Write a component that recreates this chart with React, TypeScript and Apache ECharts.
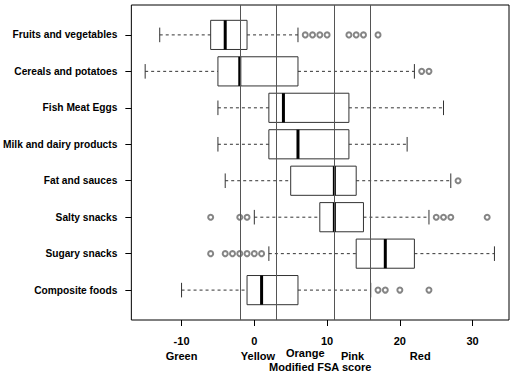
import React, { useEffect, useRef } from "react";
import * as echarts from "echarts";

const categories = [
  "Fruits and vegetables",
  "Cereals and potatoes",
  "Fish Meat Eggs",
  "Milk and dairy products",
  "Fat and sauces",
  "Salty snacks",
  "Sugary snacks",
  "Composite foods",
];
const whiskerLow = [-13, -15, -5, -5, -4, 0, 2, -10];
const q1 = [-6, -5, 2, 2, 5, 9, 14, -1];
const median = [-4, -2, 4, 6, 11, 11, 18, 1];
const q3 = [-1, 6, 13, 13, 14, 15, 22, 6];
const whiskerHigh = [6, 22, 26, 21, 27, 24, 33, 16];
const outliers = [
  [7, 8, 9, 10, 13, 14, 15, 17],
  [23, 24],
  [],
  [],
  [28],
  [-6, -2, -1, 25, 26, 27, 32],
  [-6, -4, -3, -2, -1, 0, 1],
  [17, 18, 20, 24],
];
const tickValues = [-10, 0, 10, 20, 30];
const zoneBounds = [-2, 3, 11, 16];
const zoneNames = ["Green", "Yellow", "Orange", "Pink", "Red"];
const zoneLabelPos = [-10, 0.5, 7, 13.5, 22.8];
const zoneLabelRaise = [0, 0, 2.5, 0, 0];
const xTitle = "Modified FSA score";

const FONT = "'Liberation Sans', Arial, Helvetica, sans-serif";

export default function App() {
  const ref = useRef<HTMLDivElement>(null);
  useEffect(() => {
    if (!ref.current) return;
    const chart = echarts.init(ref.current, null, { renderer: "svg" });
    const rows = categories.map((_, i) => i + 1);
    const boxData = categories.map((_, i) => [
      i + 1,
      whiskerLow[i],
      q1[i],
      median[i],
      q3[i],
      whiskerHigh[i],
    ]);
    const outlierData: number[][] = [];
    outliers.forEach((arr, i) => arr.forEach((v) => outlierData.push([v, i + 1])));
    const zoneData = zoneNames.map((n, i) => [zoneLabelPos[i], 8.82, i]);

    const lineCol = "#333";
    chart.setOption({
      animation: false,
      backgroundColor: "#fff",
      grid: {
        left: 130,
        right: 22,
        top: 5,
        bottom: 58,
        show: true,
        borderColor: "#000",
        borderWidth: 1,
        backgroundColor: "transparent",
      },
      xAxis: {
        type: "value",
        min: -16.9,
        max: 35,
        splitLine: { show: false },
        axisLine: { show: false, onZero: false },
        axisTick: {
          show: true,
          length: 6,
          lineStyle: { color: "#000" },
          customValues: tickValues,
        },
        axisLabel: {
          customValues: tickValues,
          margin: 15,
          color: "#000",
          fontWeight: "bold",
          fontSize: 11,
          fontFamily: FONT,
        },
        name: xTitle,
        nameLocation: "middle",
        nameGap: 41,
        nameTextStyle: {
          color: "#000",
          fontWeight: "bold",
          fontSize: 11,
          fontFamily: FONT,
        },
      },
      yAxis: {
        type: "value",
        min: 0.18,
        max: 8.82,
        inverse: true,
        splitLine: { show: false },
        axisLine: { show: false, onZero: false },
        axisTick: {
          show: true,
          length: 6,
          lineStyle: { color: "#000" },
          customValues: rows,
        },
        axisLabel: {
          customValues: rows,
          margin: 14,
          color: "#000",
          fontWeight: "bold",
          fontSize: 10.2,
          fontFamily: FONT,
          formatter: (v: number) => categories[Math.round(v) - 1] ?? "",
        },
      },
      series: [
        {
          type: "custom",
          name: "boxes",
          clip: false,
          data: boxData,
          renderItem: (params: any, api: any) => {
            const row = api.value(0);
            const lo = api.value(1);
            const a = api.value(2);
            const m = api.value(3);
            const b = api.value(4);
            const hi = api.value(5);
            const half = Math.abs(api.size([0, 0.4])[1]);
            const cap = Math.abs(api.size([0, 0.2])[1]);
            const pLo = api.coord([lo, row]);
            const pA = api.coord([a, row]);
            const pM = api.coord([m, row]);
            const pB = api.coord([b, row]);
            const pHi = api.coord([hi, row]);
            const y = pLo[1];
            const dash = { stroke: lineCol, lineWidth: 1, lineDash: [3, 3] };
            const solid = { stroke: lineCol, lineWidth: 1 };
            return {
              type: "group",
              children: [
                { type: "line", shape: { x1: pLo[0], y1: y, x2: pA[0], y2: y }, style: dash },
                { type: "line", shape: { x1: pB[0], y1: y, x2: pHi[0], y2: y }, style: dash },
                { type: "line", shape: { x1: pLo[0], y1: y - cap, x2: pLo[0], y2: y + cap }, style: solid },
                { type: "line", shape: { x1: pHi[0], y1: y - cap, x2: pHi[0], y2: y + cap }, style: solid },
                {
                  type: "rect",
                  shape: { x: pA[0], y: y - half, width: pB[0] - pA[0], height: 2 * half },
                  style: { fill: "none", stroke: lineCol, lineWidth: 1 },
                },
                {
                  type: "line",
                  shape: { x1: pM[0], y1: y - half, x2: pM[0], y2: y + half },
                  style: { stroke: "#000", lineWidth: 3 },
                },
              ],
            };
          },
          markLine: {
            silent: true,
            symbol: "none",
            label: { show: false },
            lineStyle: { color: "#555", width: 1, type: "solid" },
            data: zoneBounds.map((v) => ({ xAxis: v })),
          },
        },
        {
          type: "scatter",
          name: "outliers",
          data: outlierData,
          symbol: "emptyCircle",
          symbolSize: 5,
          itemStyle: { color: "#666", borderWidth: 0.9 },
        },
        {
          type: "custom",
          name: "zones",
          clip: false,
          silent: true,
          data: zoneData,
          renderItem: (params: any, api: any) => {
            const idx = api.value(2);
            const p = api.coord([api.value(0), api.value(1)]);
            return {
              type: "text",
              x: p[0],
              y: p[1] + 35.5 - zoneLabelRaise[idx],
              style: {
                text: zoneNames[idx],
                fill: "#000",
                font: `bold 11px ${FONT}`,
                align: "center",
                verticalAlign: "middle",
              },
            };
          },
        },
      ],
    });
    return () => chart.dispose();
  }, []);
  return (
    <div
      ref={ref}
      style={{ position: "fixed", left: 0, top: 0, width: 531, height: 378, background: "#fff" }}
    />
  );
}
